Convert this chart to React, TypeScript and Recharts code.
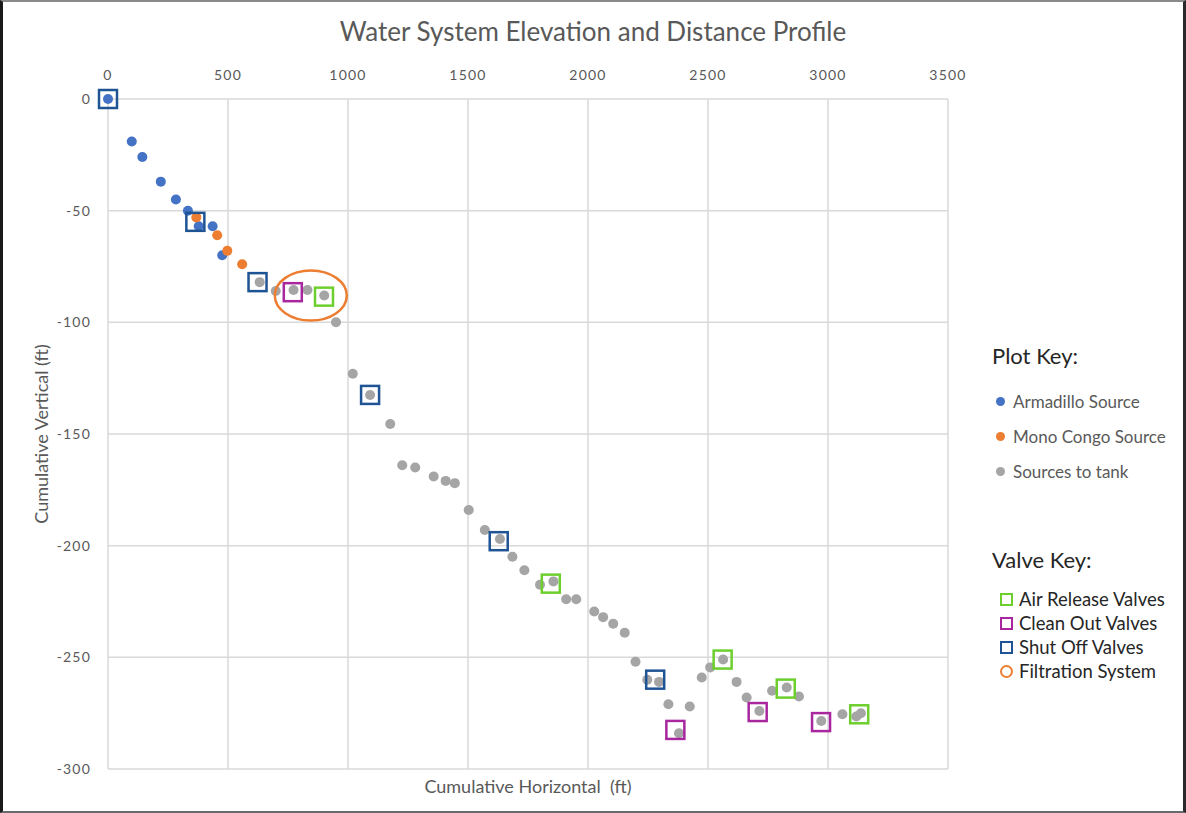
import React from 'react';
import { ScatterChart, Scatter, XAxis, YAxis, CartesianGrid } from 'recharts';

const xTicks = [0, 500, 1000, 1500, 2000, 2500, 3000, 3500];
const yTicks = [0, -50, -100, -150, -200, -250, -300];

const armadilloSource = [
  { x: 0, y: 0 }, { x: 99, y: -19 }, { x: 143, y: -26 }, { x: 220, y: -37 },
  { x: 283, y: -45 }, { x: 333, y: -50 }, { x: 378, y: -57 }, { x: 436, y: -57 },
  { x: 476, y: -70 },
];

const monoCongoSource = [
  { x: 368, y: -53 }, { x: 455, y: -61 }, { x: 497, y: -68 }, { x: 559, y: -74 },
];

const sourcesToTank = [
  { x: 632, y: -82 }, { x: 699, y: -86 }, { x: 773, y: -85.5 }, { x: 831, y: -85.5 },
  { x: 901, y: -88 }, { x: 950, y: -100 }, { x: 1020, y: -123 }, { x: 1092, y: -132.5 },
  { x: 1176, y: -145.5 }, { x: 1226, y: -164 }, { x: 1280, y: -165 }, { x: 1357, y: -169 },
  { x: 1407, y: -171 }, { x: 1445, y: -172 }, { x: 1503, y: -184 }, { x: 1570, y: -193 },
  { x: 1633, y: -197 }, { x: 1685, y: -205 }, { x: 1735, y: -211 }, { x: 1800, y: -217.5 },
  { x: 1856, y: -216 }, { x: 1909, y: -224 }, { x: 1951, y: -224 }, { x: 2026, y: -229.5 },
  { x: 2063, y: -232 }, { x: 2105, y: -235 }, { x: 2153, y: -239 }, { x: 2198, y: -252 },
  { x: 2247, y: -260 }, { x: 2296, y: -261 }, { x: 2335, y: -271 }, { x: 2379, y: -284 },
  { x: 2424, y: -272 }, { x: 2474, y: -259 }, { x: 2509, y: -254.5 }, { x: 2563, y: -251 },
  { x: 2619, y: -261 }, { x: 2661, y: -268 }, { x: 2714, y: -274 }, { x: 2767, y: -265 },
  { x: 2828, y: -263.5 }, { x: 2879, y: -267.5 }, { x: 2972, y: -278.5 }, { x: 3060, y: -275.5 },
  { x: 3118, y: -276.5 }, { x: 3137, y: -275 },
];

const airReleaseValves = [
  { x: 900, y: -88.5 }, { x: 1845, y: -217 }, { x: 2561, y: -251 }, { x: 2824, y: -264 },
  { x: 3130, y: -275.5 },
];

const cleanOutValves = [
  { x: 770, y: -86.5 }, { x: 2364, y: -282.5 }, { x: 2707, y: -274.5 }, { x: 2971, y: -279 },
];

const shutOffValves = [
  { x: 0, y: 0 }, { x: 364, y: -55 }, { x: 623, y: -82 }, { x: 1092, y: -132.5 },
  { x: 1628, y: -198 }, { x: 2280, y: -260 },
];

const filtrationSystem = [{ x: 845, y: -88 }];

const plotKeyNames = ['Armadillo Source', 'Mono Congo Source', 'Sources to tank'];
const plotKeyColors = ['#4472C4', '#ED7D31', '#A5A5A5'];
const valveKeyNames = ['Air Release Valves', 'Clean Out Valves', 'Shut Off Valves', 'Filtration System'];
const valveKeyColors = ['#6CCF2E', '#A8279E', '#1F5494', '#ED7D31'];

const FONT = 'Lato, "Open Sans", "DejaVu Sans", sans-serif';

const dotShape = (color: string) => (p: any) => (
  <circle cx={p.cx} cy={p.cy} r={5} fill={color} />
);
const squareShape = (color: string) => (p: any) => (
  <rect x={p.cx - 9} y={p.cy - 9} width={18} height={18} fill="none" stroke={color} strokeWidth={2.5} />
);
const ellipseShape = (color: string) => (p: any) => (
  <ellipse cx={p.cx} cy={p.cy} rx={36} ry={25} fill="none" stroke={color} strokeWidth={2.5} />
);

const tickStyle = { fontSize: 14, fill: '#595959', fontFamily: FONT, letterSpacing: 1.2 };

export default function App() {
  return (
    <div style={{ position: 'absolute', left: 0, top: 0, width: 1186, height: 813, background: '#fff', fontFamily: FONT }}>
      <ScatterChart width={1186} height={813} margin={{ top: 98, left: 107, right: 238, bottom: 44 }}>
        <CartesianGrid stroke="#D9D9D9" strokeWidth={1.5} />
        <XAxis
          type="number"
          dataKey="x"
          orientation="top"
          height={1}
          domain={[0, 3500]}
          ticks={xTicks}
          tickLine={false}
          axisLine={false}
          tickMargin={13}
          tick={tickStyle}
        />
        <YAxis
          type="number"
          dataKey="y"
          width={1}
          domain={[-300, 0]}
          ticks={yTicks}
          tickLine={false}
          axisLine={false}
          tickMargin={11}
          tick={tickStyle}
        />
        <Scatter name="Armadillo Source" data={armadilloSource} shape={dotShape(plotKeyColors[0])} isAnimationActive={false} />
        <Scatter name="Mono Congo Source" data={monoCongoSource} shape={dotShape(plotKeyColors[1])} isAnimationActive={false} />
        <Scatter name="Sources to tank" data={sourcesToTank} shape={dotShape(plotKeyColors[2])} isAnimationActive={false} />
        <Scatter name="Air Release Valves" data={airReleaseValves} shape={squareShape(valveKeyColors[0])} isAnimationActive={false} />
        <Scatter name="Clean Out Valves" data={cleanOutValves} shape={squareShape(valveKeyColors[1])} isAnimationActive={false} />
        <Scatter name="Shut Off Valves" data={shutOffValves} shape={squareShape(valveKeyColors[2])} isAnimationActive={false} />
        <Scatter name="Filtration System" data={filtrationSystem} shape={ellipseShape(valveKeyColors[3])} isAnimationActive={false} />
        <text x={593} y={41} textAnchor="middle" fontSize={26} fill="#595959" fontFamily={FONT}>
          Water System Elevation and Distance Profile
        </text>
        <text x={528} y={793} textAnchor="middle" fontSize={18} fill="#595959" fontFamily={FONT} style={{ whiteSpace: 'pre' }}>
          Cumulative Horizontal  (ft)
        </text>
        <text x={48} y={434} textAnchor="middle" fontSize={18} fill="#595959" fontFamily={FONT} transform="rotate(-90 48 434)">
          Cumulative Vertical (ft)
        </text>
      </ScatterChart>

      <div style={{ position: 'absolute', left: 992, top: 342, fontSize: 22, color: '#262626', whiteSpace: 'nowrap' }}>Plot Key:</div>
      {plotKeyNames.map((n, i) => (
        <div key={n} style={{ position: 'absolute', left: 996, top: 392 + i * 35, height: 18, display: 'flex', alignItems: 'center', fontSize: 17, color: '#595959', whiteSpace: 'nowrap' }}>
          <span style={{ display: 'inline-block', width: 9, height: 9, borderRadius: '50%', background: plotKeyColors[i], marginRight: 8 }} />
          {n}
        </div>
      ))}

      <div style={{ position: 'absolute', left: 992, top: 546, fontSize: 22, color: '#262626', whiteSpace: 'nowrap' }}>Valve Key:</div>
      {valveKeyNames.map((n, i) => (
        <div key={n} style={{ position: 'absolute', left: 1000, top: 590 + i * 24, height: 18, display: 'flex', alignItems: 'center', fontSize: 18.5, color: '#262626', whiteSpace: 'nowrap' }}>
          <span style={{ display: 'inline-block', boxSizing: 'border-box', width: 13, height: 13, border: `2.5px solid ${valveKeyColors[i]}`, borderRadius: i === 3 ? '50%' : 0, marginRight: 6 }} />
          {n}
        </div>
      ))}

      <div style={{ position: 'absolute', left: 0, top: 0, width: 1186, height: 813, boxSizing: 'border-box', borderLeft: '3px solid #1a1a1a', borderTop: '2px solid #8a8a8a', borderRight: '3px solid #2a2a2a', borderBottom: '2px solid #6a6a6a', pointerEvents: 'none' }} />
    </div>
  );
}
